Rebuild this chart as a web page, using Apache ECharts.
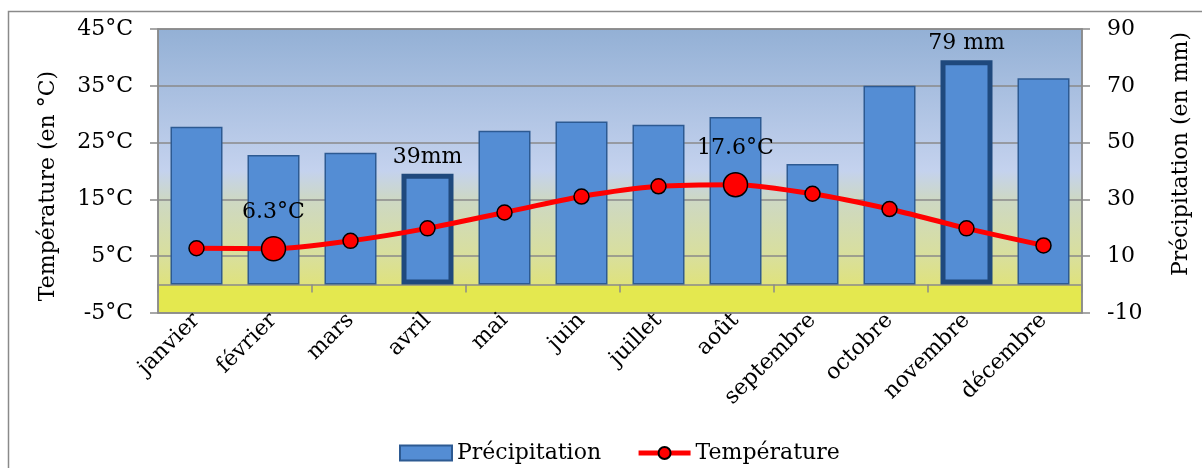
<!DOCTYPE html>
<html>
<head>
<meta charset="utf-8">
<title>Climat</title>
<script src="https://cdn.jsdelivr.net/npm/echarts@6/dist/echarts.min.js"></script>
<style>
  html, body { margin: 0; padding: 0; background: #fff; }
  #main { width: 1202px; height: 468px; }
</style>
</head>
<body>
<div id="main"></div>
<script>
"use strict";

// 数据
const months = ["janvier", "février", "mars", "avril", "mai", "juin",
    "juillet", "août", "septembre", "octobre", "novembre", "décembre"];
const precipitation = [55.6, 45.6, 46.4, 39, 54.2, 57.4, 56.3, 59, 42.5, 70, 79, 72.7];
const temperature = [6.4, 6.3, 7.7, 9.9, 12.7, 15.5, 17.3, 17.6, 16.0, 13.3, 9.9, 6.9];
// 标注文字（空字符串 = 不标注）
const precipNotes = ["", "", "", "39mm", "", "", "", "", "", "", "79 mm", ""];
const tempNotes = ["", "6.3°C", "", "", "", "", "", "17.6°C", "", "", "", ""];

const FONT = '"DejaVu Serif", "Liberation Serif", serif';
const GRAY = '#8a8a8a';

let myChart = echarts.init(document.getElementById('main'));

let option = {
    animation: false,
    textStyle: { fontFamily: FONT },
    graphic: [
        { // 外框
            type: 'rect',
            z: -10,
            shape: { x: 8.5, y: 11.5, width: 1300, height: 600 },
            style: { fill: 'none', stroke: GRAY, lineWidth: 1.5 },
        },
        { // 左轴标题
            type: 'text',
            x: 48, y: 186,
            rotation: Math.PI / 2,
            style: {
                text: "Température (en °C)",
                font: '22px ' + FONT,
                fill: '#000',
                align: 'center',
                verticalAlign: 'middle',
            },
        },
        { // 右轴标题
            type: 'text',
            x: 1181, y: 154,
            rotation: Math.PI / 2,
            style: {
                text: "Précipitation (en mm)",
                font: '22px ' + FONT,
                fill: '#000',
                align: 'center',
                verticalAlign: 'middle',
            },
        },
    ],
    grid: {
        left: 158,
        right: 120,
        top: 29,
        bottom: 155,
        show: true,
        borderColor: GRAY,
        borderWidth: 1.5,
        backgroundColor: { // 渐变背景
            type: 'linear',
            x: 0, y: 0, x2: 0, y2: 1,
            colorStops: [
                { offset: 0, color: '#93b0d5' },
                { offset: 0.5, color: '#c4d2ee' },
                { offset: 0.6, color: '#cdd8c4' },
                { offset: 0.8, color: '#d9df9c' },
                { offset: 0.899, color: '#dfe27c' },
                { offset: 0.9, color: '#e4e84f' },
                { offset: 1, color: '#e4e84f' },
            ],
        },
    },
    legend: {
        left: 394,
        top: 437,
        itemWidth: 52,
        itemHeight: 15,
        itemGap: 35,
        textStyle: { fontFamily: FONT, fontSize: 22, color: '#000' },
        data: [
            { name: "Précipitation", icon: 'rect' },
            { name: "Température", lineStyle: { width: 5 } },
        ],
    },
    xAxis: [
        { // 月份标签（底部）
            type: 'category',
            data: months,
            axisLine: { show: false, onZero: false },
            axisTick: { show: false },
            axisLabel: {
                interval: 0,
                rotate: 45,
                margin: 4,
                fontSize: 22,
                color: '#000',
                fontFamily: FONT,
            },
        },
        { // 0 刻度线
            type: 'category',
            data: months,
            position: 'bottom',
            axisLine: {
                onZero: true,
                onZeroAxisIndex: 0,
                lineStyle: { color: GRAY, width: 1.5 },
            },
            axisTick: {
                show: true,
                length: 8,
                lineStyle: { color: GRAY, width: 1.5 },
            },
            axisLabel: { show: false },
        },
    ],
    yAxis: [
        { // 温度
            type: 'value',
            min: -5,
            max: 45,
            interval: 10,
            position: 'left',
            axisLine: { show: true, lineStyle: { color: GRAY, width: 1.5 } },
            axisTick: { show: true, length: 8, lineStyle: { color: GRAY, width: 1.5 } },
            axisLabel: {
                margin: 25,
                fontSize: 22,
                color: '#000',
                fontFamily: FONT,
                formatter: '{value}°C',
            },
            splitLine: { show: true, lineStyle: { color: GRAY, width: 1.5 } },
        },
        { // 降水
            type: 'value',
            min: -10,
            max: 90,
            interval: 20,
            position: 'right',
            axisLine: { show: true, lineStyle: { color: GRAY, width: 1.5 } },
            axisTick: { show: true, length: 8, lineStyle: { color: GRAY, width: 1.5 } },
            axisLabel: {
                margin: 25,
                fontSize: 22,
                color: '#000',
                fontFamily: FONT,
            },
            splitLine: { show: false },
        },
    ],
    series: [
        {
            name: "Précipitation",
            type: 'bar',
            xAxisIndex: 0,
            yAxisIndex: 1,
            barWidth: 52,
            itemStyle: {
                color: '#548dd4',
                borderColor: '#2d5a92',
                borderWidth: 1.5,
            },
            data: precipitation.map(function (v, i) {
                if (!precipNotes[i]) {
                    return v;
                }
                return { // 突出显示
                    value: v,
                    itemStyle: { borderColor: '#1f497d', borderWidth: 5 },
                    label: {
                        show: true,
                        position: 'top',
                        distance: 6,
                        formatter: precipNotes[i],
                        fontSize: 22,
                        color: '#000',
                        fontFamily: FONT,
                    },
                };
            }),
        },
        {
            name: "Température",
            type: 'line',
            xAxisIndex: 0,
            yAxisIndex: 0,
            smooth: 0.25,
            symbol: 'circle',
            symbolSize: 15,
            lineStyle: { color: '#ff0000', width: 5 },
            itemStyle: { color: '#ff0000', borderColor: '#000', borderWidth: 1.5 },
            data: temperature.map(function (v, i) {
                if (!tempNotes[i]) {
                    return v;
                }
                return {
                    value: v,
                    symbolSize: 24,
                    label: {
                        show: true,
                        position: 'top',
                        distance: 13,
                        formatter: tempNotes[i],
                        fontSize: 22,
                        color: '#000',
                        fontFamily: FONT,
                    },
                };
            }),
        },
    ],
};

myChart.setOption(option);
</script>
</body>
</html>
